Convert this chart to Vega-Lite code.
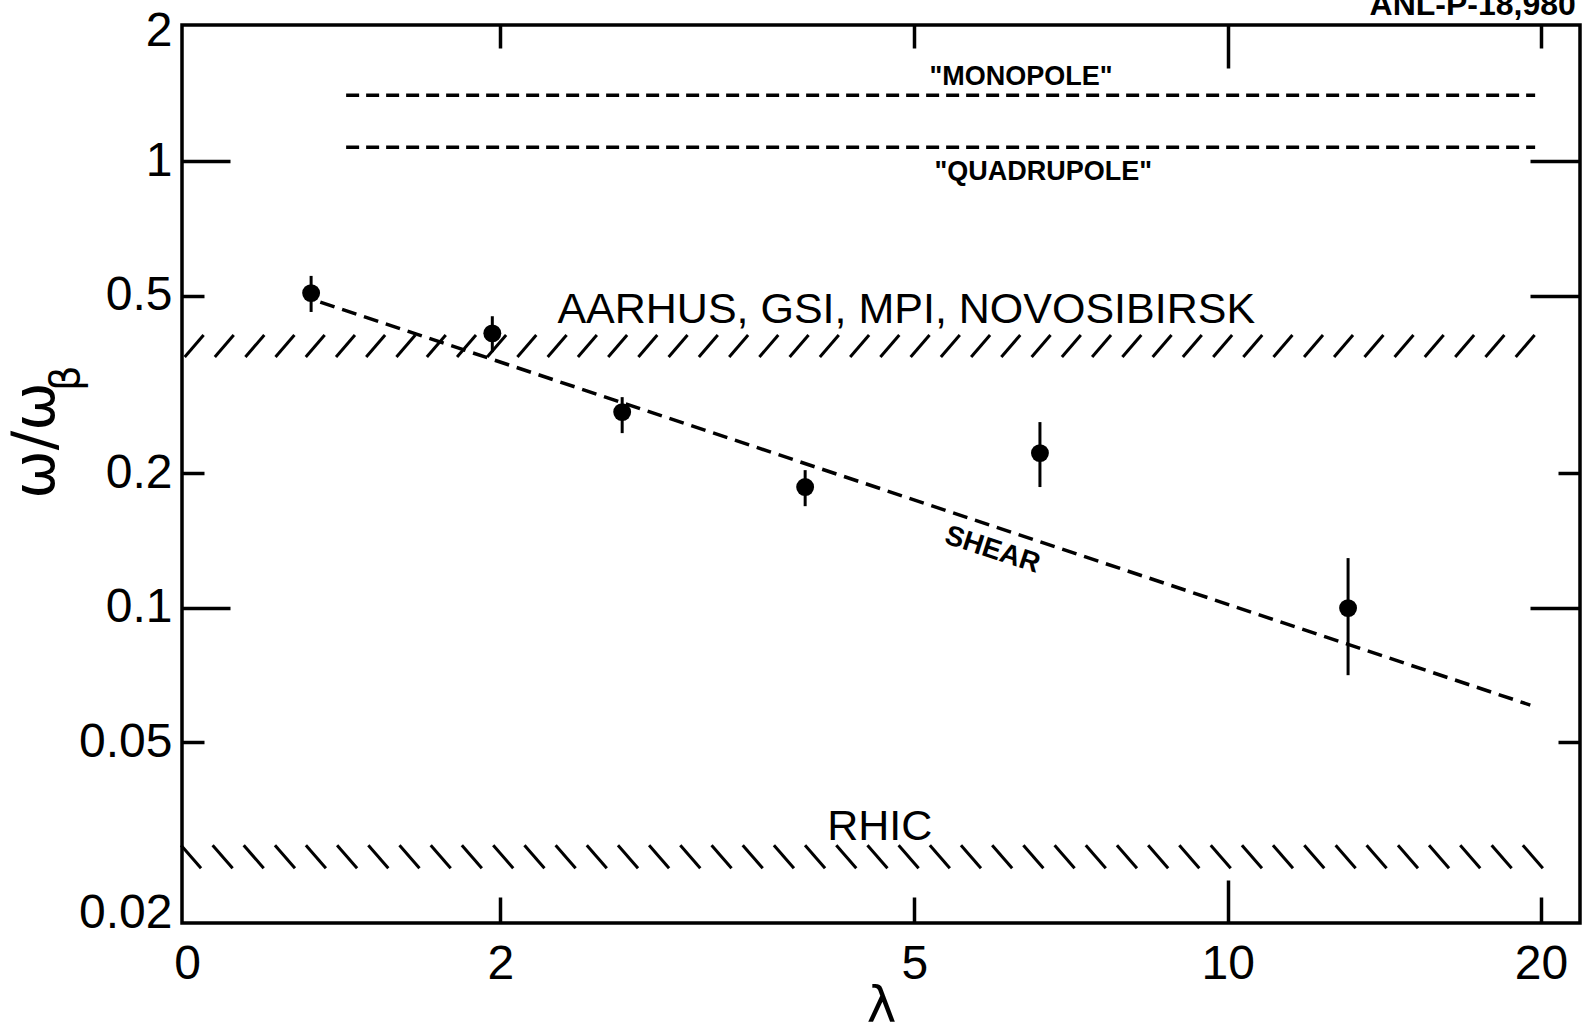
{
  "$schema": "https://vega.github.io/schema/vega-lite/v6.json",
  "width": 1398,
  "height": 898,
  "autosize": {"type": "none"},
  "padding": {"left": 182, "top": 25, "right": 3, "bottom": 109},
  "background": "white",
  "config": {
    "view": {"stroke": "black", "strokeWidth": 3.5},
    "axis": {
      "domain": false,
      "grid": false,
      "tickColor": "black",
      "tickWidth": 3.5,
      "labelColor": "black",
      "labelFont": "Liberation Sans",
      "labelFontSize": 48,
      "titleColor": "black",
      "labelFlush": false,
      "labelOverlap": false
    }
  },
  "datasets": {
    "measurements": [
      {"lam": 1.316, "w": 0.507, "lo": 0.460, "hi": 0.554},
      {"lam": 1.965, "w": 0.412, "lo": 0.374, "hi": 0.450},
      {"lam": 2.619, "w": 0.2745, "lo": 0.2463, "hi": 0.2965},
      {"lam": 3.926, "w": 0.1865, "lo": 0.169, "hi": 0.2035},
      {"lam": 6.60, "w": 0.2222, "lo": 0.1865, "hi": 0.2607},
      {"lam": 13.05, "w": 0.0999, "lo": 0.0707, "hi": 0.1293}
    ],
    "modes": [
      {"mode": "monopole", "from": 1.422, "to": 19.74, "w": 1.407},
      {"mode": "quadrupole", "from": 1.422, "to": 19.74, "w": 1.076}
    ],
    "shear": [
      {"lam": 1.343, "w": 0.484},
      {"lam": 19.53, "w": 0.0606}
    ],
    "hatch_aarhus": [
      {"lam": 1.016, "w": 0.386}, {"lam": 1.086, "w": 0.386}, {"lam": 1.162, "w": 0.386},
      {"lam": 1.242, "w": 0.386}, {"lam": 1.328, "w": 0.386}, {"lam": 1.420, "w": 0.386},
      {"lam": 1.518, "w": 0.386}, {"lam": 1.623, "w": 0.386}, {"lam": 1.736, "w": 0.386},
      {"lam": 1.856, "w": 0.386}, {"lam": 1.984, "w": 0.386}, {"lam": 2.121, "w": 0.386},
      {"lam": 2.268, "w": 0.386}, {"lam": 2.425, "w": 0.386}, {"lam": 2.593, "w": 0.386},
      {"lam": 2.772, "w": 0.386}, {"lam": 2.964, "w": 0.386}, {"lam": 3.169, "w": 0.386},
      {"lam": 3.389, "w": 0.386}, {"lam": 3.623, "w": 0.386}, {"lam": 3.874, "w": 0.386},
      {"lam": 4.142, "w": 0.386}, {"lam": 4.429, "w": 0.386}, {"lam": 4.735, "w": 0.386},
      {"lam": 5.063, "w": 0.386}, {"lam": 5.413, "w": 0.386}, {"lam": 5.788, "w": 0.386},
      {"lam": 6.188, "w": 0.386}, {"lam": 6.617, "w": 0.386}, {"lam": 7.075, "w": 0.386},
      {"lam": 7.564, "w": 0.386}, {"lam": 8.088, "w": 0.386}, {"lam": 8.648, "w": 0.386},
      {"lam": 9.246, "w": 0.386}, {"lam": 9.888, "w": 0.386}, {"lam": 10.57, "w": 0.386},
      {"lam": 11.30, "w": 0.386}, {"lam": 12.09, "w": 0.386}, {"lam": 12.92, "w": 0.386},
      {"lam": 13.82, "w": 0.386}, {"lam": 14.77, "w": 0.386}, {"lam": 15.79, "w": 0.386},
      {"lam": 16.89, "w": 0.386}, {"lam": 18.06, "w": 0.386}, {"lam": 19.31, "w": 0.386}
    ],
    "hatch_rhic": [
      {"lam": 1.009, "w": 0.02773}, {"lam": 1.082, "w": 0.02773}, {"lam": 1.159, "w": 0.02773},
      {"lam": 1.242, "w": 0.02773}, {"lam": 1.330, "w": 0.02773}, {"lam": 1.425, "w": 0.02773},
      {"lam": 1.527, "w": 0.02773}, {"lam": 1.636, "w": 0.02773}, {"lam": 1.753, "w": 0.02773},
      {"lam": 1.878, "w": 0.02773}, {"lam": 2.013, "w": 0.02773}, {"lam": 2.157, "w": 0.02773},
      {"lam": 2.311, "w": 0.02773}, {"lam": 2.476, "w": 0.02773}, {"lam": 2.653, "w": 0.02773},
      {"lam": 2.842, "w": 0.02773}, {"lam": 3.045, "w": 0.02773}, {"lam": 3.263, "w": 0.02773},
      {"lam": 3.496, "w": 0.02773}, {"lam": 3.746, "w": 0.02773}, {"lam": 4.013, "w": 0.02773},
      {"lam": 4.300, "w": 0.02773}, {"lam": 4.607, "w": 0.02773}, {"lam": 4.936, "w": 0.02773},
      {"lam": 5.289, "w": 0.02773}, {"lam": 5.666, "w": 0.02773}, {"lam": 6.071, "w": 0.02773},
      {"lam": 6.505, "w": 0.02773}, {"lam": 6.970, "w": 0.02773}, {"lam": 7.468, "w": 0.02773},
      {"lam": 8.001, "w": 0.02773}, {"lam": 8.573, "w": 0.02773}, {"lam": 9.185, "w": 0.02773},
      {"lam": 9.846, "w": 0.02773}, {"lam": 10.55, "w": 0.02773}, {"lam": 11.30, "w": 0.02773},
      {"lam": 12.11, "w": 0.02773}, {"lam": 12.98, "w": 0.02773}, {"lam": 13.90, "w": 0.02773},
      {"lam": 14.90, "w": 0.02773}, {"lam": 15.96, "w": 0.02773}, {"lam": 17.10, "w": 0.02773},
      {"lam": 18.33, "w": 0.02773}, {"lam": 19.64, "w": 0.02773}
    ],
    "facility_labels": [
      {"label": "AARHUS, GSI, MPI, NOVOSIBIRSK", "lam": 4.91, "w": 0.434},
      {"label": "RHIC", "lam": 4.63, "w": 0.0302}
    ],
    "mode_labels": [
      {"label": "\"MONOPOLE\"", "lam": 6.33, "w": 1.482},
      {"label": "\"QUADRUPOLE\"", "lam": 6.65, "w": 0.908}
    ],
    "shear_label": [
      {"label": "SHEAR", "lam": 5.94, "w": 0.1347}
    ],
    "axis_subscript": [
      {"label": "β", "lam": 0.767, "w": 0.327}
    ],
    "figure_id": [
      {"label": "ANL-P-18,980", "lam": 21.6, "w": 2.127}
    ]
  },
  "layer": [
    {
      "data": {"name": "hatch_aarhus"},
      "mark": {"type": "point", "shape": "M -0.86 1 L 0.86 -1", "size": 484, "filled": false, "stroke": "black", "strokeWidth": 3, "opacity": 1},
      "encoding": {
        "x": {"field": "lam", "type": "quantitative", "scale": {"type": "log", "domain": [0.989, 21.8], "nice": false}, "axis": null},
        "y": {"field": "w", "type": "quantitative", "scale": {"type": "log", "domain": [0.0197, 2.02], "nice": false}, "axis": null}
      }
    },
    {
      "data": {"name": "hatch_rhic"},
      "mark": {"type": "point", "shape": "M -0.87 -1 L 0.87 1", "size": 529, "filled": false, "stroke": "black", "strokeWidth": 3, "opacity": 1},
      "encoding": {
        "x": {"field": "lam", "type": "quantitative", "scale": {"type": "log", "domain": [0.989, 21.8], "nice": false}, "axis": null},
        "y": {"field": "w", "type": "quantitative", "scale": {"type": "log", "domain": [0.0197, 2.02], "nice": false}, "axis": null}
      }
    },
    {
      "data": {"name": "modes"},
      "mark": {"type": "rule", "stroke": "black", "strokeWidth": 3.5, "strokeDash": [13, 7]},
      "encoding": {
        "x": {"field": "from", "type": "quantitative", "scale": {"type": "log", "domain": [0.989, 21.8], "nice": false}, "axis": null},
        "x2": {"field": "to"},
        "y": {"field": "w", "type": "quantitative", "scale": {"type": "log", "domain": [0.0197, 2.02], "nice": false}, "axis": null}
      }
    },
    {
      "data": {"name": "shear"},
      "mark": {"type": "line", "stroke": "black", "strokeWidth": 3.5, "strokeDash": [15, 8]},
      "encoding": {
        "x": {
          "field": "lam", "type": "quantitative",
          "scale": {"type": "log", "domain": [0.989, 21.8], "nice": false},
          "axis": {
            "orient": "top",
            "values": [2, 5, 10, 20],
            "labels": false,
            "title": null,
            "tickSize": {"condition": {"test": "datum.value == 10", "value": -43}, "value": -23}
          }
        },
        "y": {
          "field": "w", "type": "quantitative",
          "scale": {"type": "log", "domain": [0.0197, 2.02], "nice": false},
          "axis": {
            "orient": "right",
            "values": [0.05, 0.1, 0.2, 0.5, 1],
            "labels": false,
            "title": null,
            "tickSize": {"condition": {"test": "datum.value == 0.2 || datum.value == 0.05", "value": -22}, "value": -50}
          }
        }
      }
    },
    {
      "data": {"name": "measurements"},
      "mark": {"type": "rule", "stroke": "black", "strokeWidth": 3},
      "encoding": {
        "x": {"field": "lam", "type": "quantitative", "scale": {"type": "log", "domain": [0.989, 21.8], "nice": false}, "axis": null},
        "y": {"field": "lo", "type": "quantitative", "scale": {"type": "log", "domain": [0.0197, 2.02], "nice": false}, "axis": null},
        "y2": {"field": "hi"}
      }
    },
    {
      "data": {"name": "measurements"},
      "mark": {"type": "circle", "size": 320, "color": "black", "opacity": 1},
      "encoding": {
        "x": {
          "field": "lam", "type": "quantitative",
          "scale": {"type": "log", "domain": [0.989, 21.8], "nice": false},
          "axis": {
            "orient": "bottom",
            "values": [1, 2, 5, 10, 20],
            "format": "~g",
            "labelExpr": "datum.value == 1 ? '0' : datum.label",
            "tickSize": {"condition": {"test": "datum.value == 10", "value": -43}, "value": -26},
            "labelPadding": {"condition": {"test": "datum.value == 10", "value": 60}, "value": 43},
            "tickOpacity": {"condition": {"test": "datum.value == 1", "value": 0}, "value": 1},
            "title": "λ",
            "titleFont": "DejaVu Sans",
            "titleFontSize": 50,
            "titleFontWeight": "normal",
            "titleY": 98,
            "titleBaseline": "alphabetic"
          }
        },
        "y": {
          "field": "w", "type": "quantitative",
          "scale": {"type": "log", "domain": [0.0197, 2.02], "nice": false},
          "axis": {
            "orient": "left",
            "values": [0.02, 0.05, 0.1, 0.2, 0.5, 1, 2],
            "format": "~g",
            "tickSize": {"condition": {"test": "datum.value == 1 || datum.value == 0.1", "value": -48}, "value": -22},
            "labelPadding": {"condition": {"test": "datum.value == 1 || datum.value == 0.1", "value": 58}, "value": 32},
            "labelOffset": {"condition": [{"test": "datum.value == 2", "value": 5}, {"test": "datum.value == 0.02", "value": -7}], "value": 0},
            "tickOpacity": {"condition": {"test": "datum.value == 2 || datum.value == 0.02", "value": 0}, "value": 1},
            "title": "ω/ω",
            "titleFont": "DejaVu Sans",
            "titleFontSize": 58,
            "titleFontWeight": "normal",
            "titleAngle": -90,
            "titleX": -129,
            "titleY": 415,
            "titleAlign": "center",
            "titleBaseline": "alphabetic"
          }
        }
      }
    },
    {
      "data": {"name": "axis_subscript"},
      "mark": {"type": "text", "font": "DejaVu Sans", "fontSize": 40, "color": "black", "align": "center", "baseline": "middle", "angle": -90},
      "encoding": {
        "x": {"field": "lam", "type": "quantitative", "scale": {"type": "log", "domain": [0.989, 21.8], "nice": false}, "axis": null},
        "y": {"field": "w", "type": "quantitative", "scale": {"type": "log", "domain": [0.0197, 2.02], "nice": false}, "axis": null},
        "text": {"field": "label"}
      }
    },
    {
      "data": {"name": "facility_labels"},
      "mark": {"type": "text", "font": "Liberation Sans", "fontSize": 43, "color": "black", "align": "center", "baseline": "alphabetic"},
      "encoding": {
        "x": {"field": "lam", "type": "quantitative", "scale": {"type": "log", "domain": [0.989, 21.8], "nice": false}, "axis": null},
        "y": {"field": "w", "type": "quantitative", "scale": {"type": "log", "domain": [0.0197, 2.02], "nice": false}, "axis": null},
        "text": {"field": "label"}
      }
    },
    {
      "data": {"name": "mode_labels"},
      "mark": {"type": "text", "font": "Liberation Sans", "fontSize": 27, "fontWeight": "bold", "color": "black", "align": "center", "baseline": "alphabetic"},
      "encoding": {
        "x": {"field": "lam", "type": "quantitative", "scale": {"type": "log", "domain": [0.989, 21.8], "nice": false}, "axis": null},
        "y": {"field": "w", "type": "quantitative", "scale": {"type": "log", "domain": [0.0197, 2.02], "nice": false}, "axis": null},
        "text": {"field": "label"}
      }
    },
    {
      "data": {"name": "shear_label"},
      "mark": {"type": "text", "font": "Liberation Sans", "fontSize": 28, "fontWeight": "bold", "color": "black", "align": "center", "baseline": "middle", "angle": 18},
      "encoding": {
        "x": {"field": "lam", "type": "quantitative", "scale": {"type": "log", "domain": [0.989, 21.8], "nice": false}, "axis": null},
        "y": {"field": "w", "type": "quantitative", "scale": {"type": "log", "domain": [0.0197, 2.02], "nice": false}, "axis": null},
        "text": {"field": "label"}
      }
    },
    {
      "data": {"name": "figure_id"},
      "mark": {"type": "text", "font": "Liberation Sans", "fontSize": 32, "fontWeight": "bold", "color": "black", "align": "right", "baseline": "alphabetic"},
      "encoding": {
        "x": {"field": "lam", "type": "quantitative", "scale": {"type": "log", "domain": [0.989, 21.8], "nice": false}, "axis": null},
        "y": {"field": "w", "type": "quantitative", "scale": {"type": "log", "domain": [0.0197, 2.02], "nice": false}, "axis": null},
        "text": {"field": "label"}
      }
    }
  ],
  "resolve": {"axis": {"x": "independent", "y": "independent"}}
}
